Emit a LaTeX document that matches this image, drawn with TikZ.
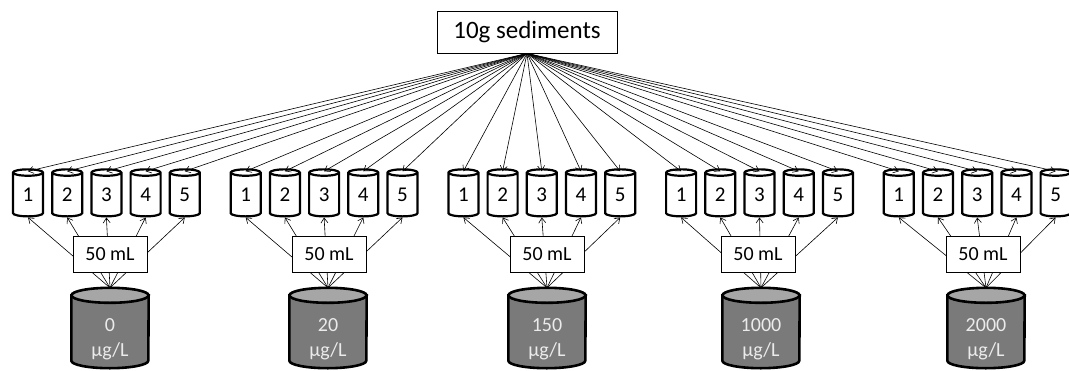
\documentclass[tikz,border=0pt]{standalone}
\usepackage{fontspec}
\setmainfont{Carlito}
\usetikzlibrary{shapes.geometric,arrows.meta,calc}
\definecolor{bodygray}{HTML}{7A7A7A}
\definecolor{topgray}{HTML}{A6A6A6}
\begin{document}
\begin{tikzpicture}[x=1pt,y=-1pt,
  srcbox/.style={draw, line width=0.8pt, fill=white, inner sep=0pt, minimum width=180pt, minimum height=42pt, font=\fontsize{25}{28}\selectfont},
  volbox/.style={draw, line width=0.8pt, fill=white, inner sep=0pt, minimum width=74pt, minimum height=36pt, font=\fontsize{20}{23}\selectfont},
  tube/.style={cylinder, shape border rotate=90, draw, line width=2.2pt, fill=white, aspect=0.6, minimum width=30pt, minimum height=47pt, inner sep=0pt, font=\fontsize{21}{24}\selectfont},
  stock/.style={rectangle, inner sep=0pt, minimum width=77pt, minimum height=80pt},
  stockline/.style={line width=2.6pt},
  stocktext/.style={align=center, inner sep=0pt, text=white!92!black, font=\fontsize{20}{25}\selectfont},
  flow/.style={-{Straight Barb[length=5pt,width=7pt]}, line width=0.6pt},
]
\useasboundingbox (0,0) rectangle (1069,370);
\node[srcbox] (src) at (527,32) {10g sediments};
\foreach \g in {0,...,4}{
  \foreach \i in {1,...,5}{
    \node[tube] (t-\g-\i) at ({28+217.7*\g+39.2*(\i-1)},195) {\i};
  }
}
\foreach \g/\bx/\lab in {0/110/0, 1/328/20, 2/547/150, 3/761/1000, 4/986/2000}{
  \node[stock] (s-\g) at (\bx,328) {};
  \draw[stockline, fill=bodygray] ($(s-\g.north west)+(0,7.5)$) -- ($(s-\g.south west)+(0,-7.5)$)
     arc[start angle=180, end angle=0, x radius=38.5, y radius=7.5]
     -- ($(s-\g.north east)+(0,7.5)$) -- cycle;
  \draw[stockline, fill=topgray] ($(s-\g.north)+(0,7.5)$) ellipse[x radius=38.5, y radius=7.5];
  \node[stocktext] (l-\g) at (\bx,339) {\lab\\µg/L};
}
\foreach \g in {0,...,4}{
  \foreach \i in {1,...,5}{
    \draw[flow] (src.south) -- ($(t-\g-\i.north)+(0,3)$);
    \draw[flow] (s-\g.north) -- (t-\g-\i.south);
  }
}
\foreach \g/\vx in {0/110, 1/329, 2/547, 3/758, 4/983}{
  \node[volbox] (v-\g) at (\vx,254) {50 mL};
}
\end{tikzpicture}
\end{document}
